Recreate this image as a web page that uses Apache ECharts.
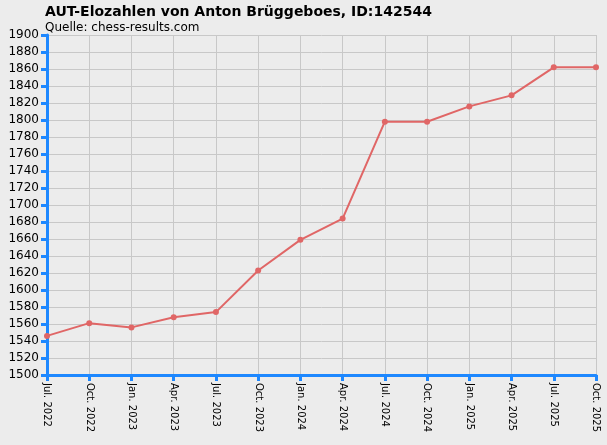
<!DOCTYPE html><html><head><meta charset="utf-8"><script src="https://cdn.jsdelivr.net/npm/echarts@6/dist/echarts.min.js"></script></head><body style="margin:0;background:#ececec"><div id="c" style="width:607px;height:445px"></div><script>
const categories=["Jul. 2022","Oct. 2022","Jan. 2023","Apr. 2023","Jul. 2023","Oct. 2023","Jan. 2024","Apr. 2024","Jul. 2024","Oct. 2024","Jan. 2025","Apr. 2025","Jul. 2025","Oct. 2025"];
const elo=[1546,1561,1556,1568,1574,1623,1659,1684,1798,1798,1816,1829,1862,1862];
const ax={color:'#1e88ff',width:3};
echarts.init(document.getElementById('c')).setOption({backgroundColor:'#ececec',animation:false,
title:{text:'AUT-Elozahlen von Anton Brüggeboes, ID:142544',subtext:'Quelle: chess-results.com',left:40,top:0,itemGap:3,
textStyle:{fontFamily:'DejaVu Sans',fontSize:14,fontWeight:'bold',color:'#000'},subtextStyle:{fontFamily:'DejaVu Sans',fontSize:12,color:'#000'}},
grid:{left:47,right:11,top:35,bottom:70},
xAxis:{type:'category',data:categories,boundaryGap:false,axisLine:{lineStyle:ax},axisTick:{lineStyle:ax,length:6},
axisLabel:{rotate:-90,fontFamily:'DejaVu Sans',fontSize:10,color:'#000',interval:0},splitLine:{show:true,lineStyle:{color:'#c8c8c8'}}},
yAxis:{type:'value',min:1500,max:1900,interval:20,axisLine:{show:true,lineStyle:ax},axisTick:{show:true,lineStyle:ax,length:6},
axisLabel:{fontFamily:'DejaVu Sans',fontSize:12,color:'#000',margin:8,formatter:v=>String(v)},splitLine:{lineStyle:{color:'#c8c8c8'}}},
series:[{type:'line',data:elo,symbol:'circle',symbolSize:6,lineStyle:{color:'#e06666',width:2},itemStyle:{color:'#e06666'}}]});
</script></body></html>
